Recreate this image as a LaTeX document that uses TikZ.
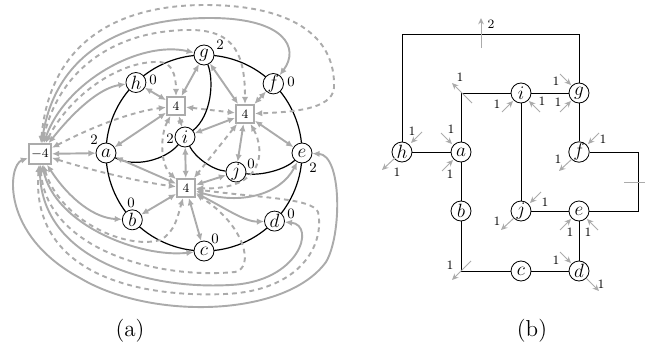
\documentclass[tikz,border=0pt]{standalone}
\usetikzlibrary{arrows.meta,backgrounds,calc}
\definecolor{lg}{gray}{0.67}
\newcommand\angarr[8]{%
  \draw[sarr] ($(#1)+(#2,#3)$) -- ($(#1)+(#4,#5)$);
  \node[one] (#8) at ($(#1)+(#6,#7)$) {1};}
\begin{document}
\begin{tikzpicture}[x=0.625pt,y=-0.625pt,
  vtx/.style={circle,draw=black,fill=white,inner sep=0pt,minimum size=12.5pt,line width=0.5pt,font=\large},
  face/.style={rectangle,draw=lg,fill=white,line width=1pt,inner sep=0pt,minimum size=11.5pt,font=\footnotesize},
  lab/.style={font=\small,inner sep=0pt},
  one/.style={font=\footnotesize,inner sep=0pt},
  blk/.style={draw=black,line width=0.75pt},
  thinblk/.style={draw=black,line width=0.5pt},
  gs/.style={draw=lg,line width=1.2pt,{Latex[length=4.5pt,width=4pt]}-{Latex[length=4.5pt,width=4pt]}},
  gds/.style={gs,dash pattern=on 3pt off 2.5pt},
  sarr/.style={draw=lg,line width=0.6pt,-{Stealth[open,length=4pt,width=3.6pt]}},
]
\useasboundingbox (0,0) rectangle (645,349);

% ---------------- panel (a) ----------------
\coordinate (O) at (204,153);
\node[face,minimum width=14pt,minimum height=12.5pt] (N) at (40,154) {$-4$};
\path (O) ++(180:98) node[vtx] (A) {$a$};
\path (O) ++(226:98) node[vtx] (H) {$h$};
\path (O) ++(270:98) node[vtx] (G) {$g$};
\path (O) ++(315:98) node[vtx] (F) {$f$};
\path (O) ++(0:98)   node[vtx] (E) {$e$};
\path (O) ++(44:98)  node[vtx] (D) {$d$};
\path (O) ++(90:98)  node[vtx] (C) {$c$};
\path (O) ++(137:98) node[vtx] (B) {$b$};
\node[vtx] (I) at (185,137) {$i$};
\node[vtx] (J) at (236,172) {$j$};
\node[face] (P) at (176,106) {4};
\node[face] (Q) at (245,114) {4};
\node[face] (R) at (186,188) {4};

\begin{scope}[on background layer]
\draw[blk] (A.center) arc[start angle=180,end angle=226,radius=98];
\draw[blk] (H.center) arc[start angle=226,end angle=270,radius=98];
\draw[blk] (G.center) arc[start angle=270,end angle=315,radius=98];
\draw[blk] (F.center) arc[start angle=315,end angle=360,radius=98];
\draw[blk] (E.center) arc[start angle=0,end angle=44,radius=98];
\draw[blk] (D.center) arc[start angle=44,end angle=90,radius=98];
\draw[blk] (C.center) arc[start angle=90,end angle=137,radius=98];
\draw[blk] (B.center) arc[start angle=137,end angle=180,radius=98];
\end{scope}
\draw[blk] (A) .. controls (135,168) and (165,160) .. (I);
\draw[blk] (G) .. controls (214,80) and (212,115) .. (I);
\draw[blk] (I) .. controls (195,157) and (212,170) .. (J);
\draw[blk] (J) .. controls (260,176) and (285,170) .. (E);

% from the outer face
\draw[gs] (N) -- (A);
\draw[gs] (N) .. controls (75,110) and (100,88) .. (H);
\draw[gs] (N) .. controls (65,82) and (140,40) .. (G);
\draw[gs] (N) .. controls (55,55) and (120,18) .. (210,18) .. controls (285,18) and (300,48) .. (F);
\draw[gds] (N) .. controls (90,128) and (130,112) .. (P);
\draw[gds] (N) .. controls (70,95) and (120,60) .. (160,62) .. controls (172,63) and (176,75) .. (P);
\draw[gds] (N) .. controls (60,65) and (120,30) .. (190,30) .. controls (235,30) and (245,55) .. (Q);
\draw[gds] (N) .. controls (50,40) and (120,5) .. (205,5) .. controls (290,5) and (336,35) .. (334,88) .. controls (332,110) and (290,112) .. (Q);
\draw[gs] (N) .. controls (70,200) and (95,218) .. (B);
\draw[gs] (N) .. controls (55,225) and (140,258) .. (C);
\draw[gs] (N) .. controls (40,255) and (140,290) .. (230,285) .. controls (300,282) and (316,225) .. (D);
\draw[gs] (N) .. controls (8,165) and (0,235) .. (80,278) .. controls (150,320) and (285,318) .. (326,262) .. controls (342,235) and (342,155) .. (E);
\draw[gds] (N) .. controls (90,170) and (140,182) .. (R);
\draw[gds] (N) .. controls (60,220) and (125,250) .. (160,240) .. controls (175,233) and (178,215) .. (R);
\draw[gds] (N) .. controls (45,245) and (150,280) .. (235,272) .. controls (255,268) and (245,225) .. (R);
\draw[gds] (N) .. controls (30,270) and (130,298) .. (225,294) .. controls (300,291) and (325,245) .. (318,212) .. controls (312,198) and (260,198) .. (R);

% upper left face
\draw[gs] (P) -- (H);
\draw[gs] (P) -- (G);
\draw[gs] (P) -- (A);
\draw[gs] (P) -- (I);
\draw[gds] (P) -- (Q);
\draw[gds] (P) .. controls (160,135) and (160,165) .. (R);
% upper right face
\draw[gs] (Q) -- (G);
\draw[gs] (Q) -- (F);
\draw[gs] (Q) -- (I);
\draw[gs] (Q) -- (E);
\draw[gs] (Q) -- (J);
\draw[gds] (Q) -- (R);
\draw[gds] (Q) .. controls (265,150) and (265,190) .. (R);
% lower face
\draw[gs] (R) -- (I);
\draw[gs] (R) -- (J);
\draw[gs] (R) -- (B);
\draw[gs] (R) -- (C);
\draw[gs] (R) -- (A);
\draw[gs] (R) .. controls (240,205) and (280,195) .. (E);
\draw[gs] (R) .. controls (225,208) and (245,222) .. (D);

% supplies
\node[lab] (lA) at (94,140) {2};
\node[lab] (lH) at (153,80) {0};
\node[lab] (lG) at (220,45) {2};
\node[lab] (lF) at (291,82) {0};
\node[lab] (lI) at (170,139) {2};
\node[lab] (lJ) at (251,164) {0};
\node[lab] (lE) at (313,168) {2};
\node[lab] (lD) at (291,214) {0};
\node[lab] (lC) at (215,239) {0};
\node[lab] (lB) at (131,203) {0};
\node[font=\Large] (capa) at (130,331) {(a)};

% ---------------- panel (b) ----------------
\node[vtx] (h2) at (402,152) {$h$};
\node[vtx] (a2) at (461,152) {$a$};
\node[vtx] (i2) at (521,93) {$i$};
\node[vtx] (g2) at (579,93) {$g$};
\node[vtx] (f2) at (579,152) {$f$};
\node[vtx] (b2) at (461,211) {$b$};
\node[vtx] (j2) at (521,211) {$j$};
\node[vtx] (e2) at (579,211) {$e$};
\node[vtx] (c2) at (521,271) {$c$};
\node[vtx] (d2) at (579,271) {$d$};
\coordinate (TL) at (402,34);
\coordinate (TR) at (579,34);
\coordinate (T) at (481,34);
\coordinate (AC) at (461,93);
\coordinate (RT) at (638,152);
\coordinate (RB) at (638,211);
\coordinate (RM) at (638,182);
\coordinate (BL) at (461,271);

\draw[thinblk] (h2) -- (TL) -- (TR) -- (g2);
\draw[thinblk] (h2) -- (a2);
\draw[thinblk] (a2) -- (AC) -- (i2);
\draw[thinblk] (i2) -- (g2);
\draw[thinblk] (g2) -- (f2);
\draw[thinblk] (f2) -- (RT) -- (RB) -- (e2);
\draw[thinblk] (i2) -- (j2);
\draw[thinblk] (j2) -- (e2);
\draw[thinblk] (e2) -- (d2);
\draw[thinblk] (d2) -- (c2);
\draw[thinblk] (c2) -- (BL) -- (b2);
\draw[thinblk] (b2) -- (a2);

% angle arrows
\draw[sarr] ($(T)+(0,14)$) -- ($(T)+(0,-16)$);
\node[one] (l2) at (491,24) {2};
\draw[sarr] ($(RM)+(-14,0)$) -- ($(RM)+(16,0)$);
\angarr{AC}{11}{10}{-9}{-10}{-1}{-16}{lac}
\angarr{BL}{10}{-10}{-9}{9}{-11}{-6}{lbl}
\angarr{h2}{20}{-20}{9}{-9}{10}{-21}{lh1}
\angarr{h2}{-7}{6}{-20}{18}{-5}{20}{lh2}
\angarr{a2}{-20}{-19}{-9}{-8}{-10}{-23}{la1}
\angarr{a2}{-19}{19}{-8}{8}{-11}{22}{la2}
\angarr{i2}{-19}{19}{-8}{8}{-24}{11}{li1}
\angarr{i2}{19}{19}{8}{8}{21}{8}{li2}
\angarr{g2}{-19}{-19}{-8}{-8}{-23}{-12}{lg1}
\angarr{g2}{-19}{19}{-8}{8}{-21}{9}{lg2}
\angarr{f2}{20}{-19}{9}{-8}{24}{-13}{lf1}
\angarr{f2}{-7}{7}{-20}{19}{-21}{7}{lf2}
\angarr{j2}{20}{-19}{9}{-8}{24}{-9}{lj1}
\angarr{j2}{-7}{7}{-20}{19}{-24}{10}{lj2}
\angarr{e2}{-19}{19}{-8}{8}{-9}{21}{le1}
\angarr{e2}{19}{19}{8}{8}{9}{21}{le2}
\angarr{d2}{-19}{-19}{-8}{-8}{-23}{-11}{ld1}
\angarr{d2}{7}{7}{20}{20}{22}{13}{ld2}
\node[font=\Large] (capb) at (532,331) {(b)};
\end{tikzpicture}
\end{document}
